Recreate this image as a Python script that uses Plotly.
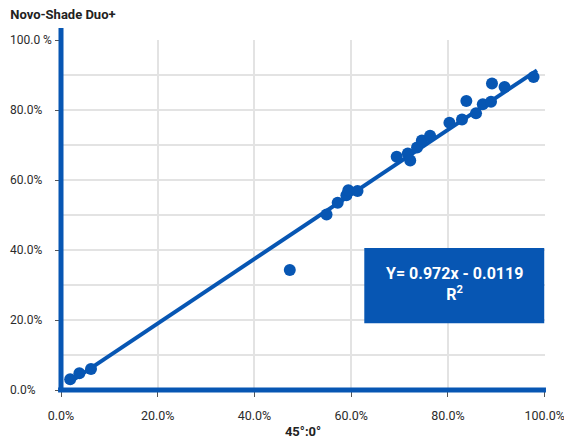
import plotly.graph_objects as go

# ---- data ----
x_vals = [0.019, 0.038, 0.062, 0.473, 0.549, 0.572, 0.590, 0.594, 0.613,
          0.694, 0.717, 0.722, 0.736, 0.746, 0.763, 0.803, 0.829, 0.838,
          0.858, 0.872, 0.889, 0.891, 0.917, 0.977]
y_vals = [0.031, 0.048, 0.060, 0.343, 0.502, 0.535, 0.557, 0.571, 0.569,
          0.667, 0.676, 0.656, 0.693, 0.713, 0.727, 0.764, 0.773, 0.826,
          0.791, 0.817, 0.824, 0.876, 0.866, 0.895]
trend_x = [0.020, 0.984]
trend_y = [0.024, 0.914]

x_tickvals = [0.0, 0.2, 0.4, 0.6, 0.8, 1.0]
x_ticktext = ["0.0%", "20.0%", "40.0%", "60.0%", "80.0%", "100.0%"]
y_tickvals = [0.0, 0.2, 0.4, 0.6, 0.8, 1.0]
y_ticktext = ["0.0%", "20.0%", "40.0%", "60.0%", "80.0%", "100.0 %"]
y_minor_vals = [0.1, 0.3, 0.5, 0.7, 0.9]

title_text = "Novo-Shade Duo+"
x_title = "45°:0°"
eq_text = "<b>Y= 0.972x - 0.0119</b><br><b>R<sup>2</sup></b>"

BLUE = "#0756b3"
FONT = "Roboto, sans-serif"
W, H = 564, 431
ML, MR, MT, MB = 53, 27, 32, 49

fig = go.Figure()
fig.add_trace(go.Scatter(x=trend_x, y=trend_y, mode="lines",
                         line=dict(color=BLUE, width=4), hoverinfo="skip",
                         showlegend=False))
fig.add_trace(go.Scatter(x=x_vals, y=y_vals, mode="markers",
                         marker=dict(color=BLUE, size=12), showlegend=False,
                         cliponaxis=False))

# axis lines (thick, extending a bit beyond the grid)
fig.add_shape(type="line", xref="paper", yref="paper", x0=0, x1=0, y0=-0.006, y1=1.034,
              line=dict(color=BLUE, width=5), layer="above")
fig.add_shape(type="line", xref="paper", yref="paper", x0=-0.006, x1=1.002, y0=0, y1=0,
              line=dict(color=BLUE, width=5), layer="above")

# left-aligned y tick labels (as in the reference)
plot_w = W - ML - MR
for v, t in zip(y_tickvals, y_ticktext):
    fig.add_annotation(x=-ML / plot_w, xref="paper", xanchor="left",
                       y=v, yref="y", yanchor="middle", text=t, showarrow=False,
                       font=dict(family=FONT, size=12, color="#2b2b2b"))

# equation box
fig.add_shape(type="rect", xref="x", yref="y", x0=0.627, x1=0.999, y0=0.191, y1=0.406,
              fillcolor=BLUE, line=dict(width=0), layer="above")
fig.add_annotation(x=0.813, y=0.303, xref="x", yref="y", text=eq_text, showarrow=False,
                   font=dict(family=FONT, size=16, color="white"), align="center")

fig.update_layout(
    width=W, height=H,
    margin=dict(l=ML, r=MR, t=MT, b=MB, autoexpand=False),
    paper_bgcolor="white", plot_bgcolor="white",
    font=dict(family=FONT, size=12.5, color="#2b2b2b"),
    title=dict(text="<b>" + title_text + "</b>", x=0.004, xanchor="left", y=0.986, yanchor="middle",
               font=dict(family=FONT, size=13, color="#222222")),
    xaxis=dict(range=[0, 1.0006], tickvals=x_tickvals, ticktext=x_ticktext,
               showgrid=True, gridcolor="#e3e3e3", gridwidth=1.5,
               zeroline=False, showline=False, automargin=False,
               ticks="outside", ticklen=6, tickcolor="#555555", ticklabelstandoff=8,
               title=dict(text="<b>" + x_title + "</b>", standoff=8,
                          font=dict(family=FONT, size=13, color="#222222"))),
    yaxis=dict(range=[0, 1.0006], tickvals=y_tickvals, showticklabels=False,
               showgrid=True, gridcolor="#e3e3e3", gridwidth=1.5,
               zeroline=False, showline=False, automargin=False,
               ticks="outside", ticklen=5, tickcolor="#555555",
               minor=dict(tickvals=y_minor_vals, showgrid=True, gridcolor="#e3e3e3",
                          gridwidth=1.5, ticks="")),
)

fig.write_html("out.html")
